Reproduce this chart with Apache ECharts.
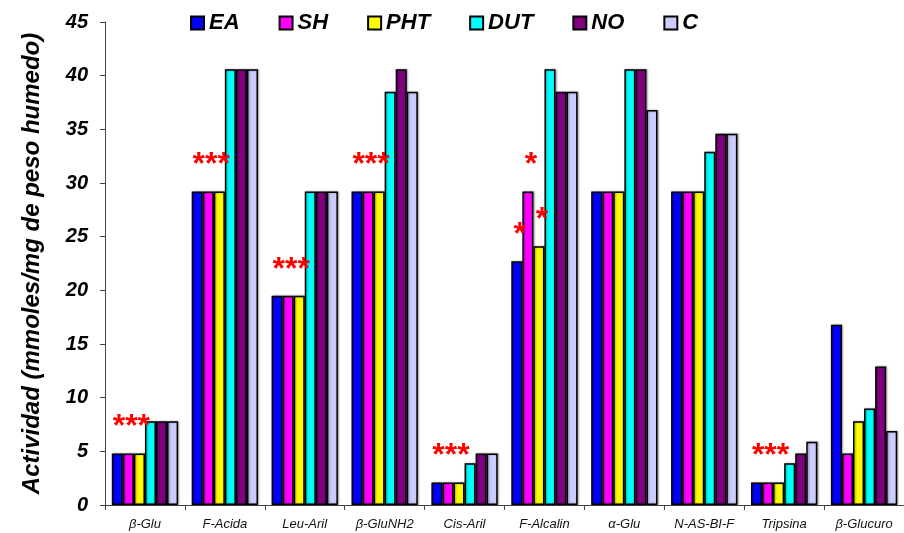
<!DOCTYPE html>
<html>
<head>
<meta charset="utf-8">
<script src="https://cdn.jsdelivr.net/npm/echarts@6/dist/echarts.min.js"></script>
<style>
  html, body { margin: 0; padding: 0; background: #fff; }
  #chart { width: 904px; height: 533px; }
</style>
</head>
<body>
<div id="chart"></div>
<script>
// Enzyme activity per substrate and treatment group
const categories = ['β-Glu', 'F-Acida', 'Leu-Aril', 'β-GluNH2', 'Cis-Aril', 'F-Alcalin', 'α-Glu', 'N-AS-BI-F', 'Tripsina', 'β-Glucuro'];
const seriesNames = ['EA', 'SH', 'PHT', 'DUT', 'NO', 'C'];

const valuesEA  = [4.8, 29.2, 19.5, 29.2, 2.1, 22.7, 29.2, 29.2, 2.1, 16.8];
const valuesSH  = [4.8, 29.2, 19.5, 29.2, 2.1, 29.2, 29.2, 29.2, 2.1, 4.8];
const valuesPHT = [4.8, 29.2, 19.5, 29.2, 2.1, 24.1, 29.2, 29.2, 2.1, 7.8];
const valuesDUT = [7.8, 40.6, 29.2, 38.5, 3.9, 40.6, 40.6, 32.9, 3.9, 9.0];
const valuesNO  = [7.8, 40.6, 29.2, 40.6, 4.8, 38.5, 40.6, 34.6, 4.8, 12.9];
const valuesC   = [7.8, 40.6, 29.2, 38.5, 4.8, 38.5, 36.8, 34.6, 5.9, 6.9];

// Significance marks shown above the EA, SH and PHT bars
const marksEA  = ['', '', '', '', '', '*', '', '', '', ''];
const marksSH  = ['***', '***', '***', '***', '***', '*', '', '', '***', ''];
const marksPHT = ['', '', '', '', '', '*', '', '', '', ''];

const yTicks = [0, 5, 10, 15, 20, 25, 30, 35, 40, 45];

const colors = ['#0000ff', '#ff00ff', '#ffff00', '#00ffff', '#800080', '#ccccff'];
const allValues = [valuesEA, valuesSH, valuesPHT, valuesDUT, valuesNO, valuesC];
const allMarks = [marksEA, marksSH, marksPHT, null, null, null];

const fontFamily = '"Liberation Sans", Arial, sans-serif';

function buildData(values, marks) {
  return values.map((v, i) => {
    const m = marks ? marks[i] : '';
    if (!m) return v;
    return {
      value: v,
      label: {
        show: true,
        position: 'top',
        distance: 10,
        offset: [3, 0],
        formatter: m,
        color: '#ff0000',
        fontSize: 32,
        fontWeight: 'bold',
        fontFamily: fontFamily
      }
    };
  });
}

const chart = echarts.init(document.getElementById('chart'), null, { renderer: 'canvas' });

chart.setOption({
  animation: false,
  backgroundColor: '#ffffff',
  legend: {
    data: seriesNames,
    left: 185,
    top: 7,
    itemWidth: 13,
    itemHeight: 13,
    itemGap: 39,
    icon: 'rect',
    textStyle: {
      fontSize: 22,
      fontWeight: 'bold',
      fontStyle: 'italic',
      color: '#000',
      fontFamily: fontFamily
    }
  },
  grid: {
    left: 105,
    right: -3,
    top: 22,
    bottom: 28,
    containLabel: false
  },
  xAxis: {
    type: 'category',
    data: categories,
    axisLine: { lineStyle: { color: '#444', width: 1 } },
    axisTick: { show: true, length: 5, lineStyle: { color: '#444' } },
    axisLabel: {
      fontSize: 13,
      fontStyle: 'italic',
      color: '#111',
      margin: 13,
      fontFamily: fontFamily
    }
  },
  yAxis: {
    type: 'value',
    min: yTicks[0],
    max: yTicks[yTicks.length - 1],
    interval: yTicks[1] - yTicks[0],
    name: 'Actividad (mmoles/mg de peso humedo)',
    nameLocation: 'middle',
    nameRotate: 90,
    nameGap: 61,
    nameTextStyle: {
      fontSize: 24,
      fontWeight: 'bold',
      fontStyle: 'italic',
      color: '#000',
      fontFamily: fontFamily
    },
    axisLine: { show: true, lineStyle: { color: '#444', width: 1 } },
    axisTick: { show: true, length: 5, lineStyle: { color: '#444' } },
    splitLine: { show: false },
    axisLabel: {
      fontSize: 20,
      fontWeight: 'bold',
      fontStyle: 'italic',
      color: '#000',
      margin: 17,
      fontFamily: fontFamily
    }
  },
  series: seriesNames.map((name, k) => ({
    name: name,
    type: 'bar',
    barGap: '0%',
    barCategoryGap: '17%',
    data: buildData(allValues[k], allMarks[k]),
    itemStyle: {
      color: colors[k],
      borderColor: '#000',
      borderWidth: 1.5,
      shadowColor: 'rgba(0,0,0,0.35)',
      shadowBlur: 2,
      shadowOffsetX: 1,
      shadowOffsetY: 0
    },
    emphasis: { disabled: true }
  }))
});
</script>
</body>
</html>
